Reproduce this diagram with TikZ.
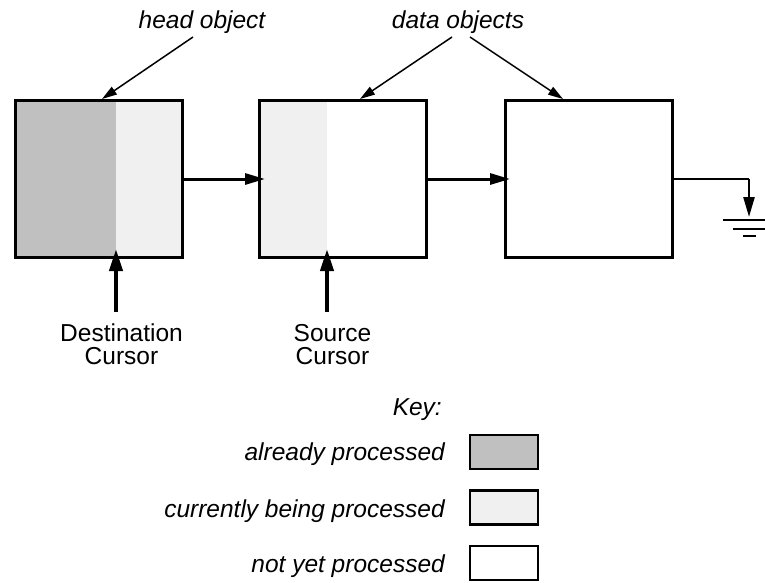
\documentclass[tikz,border=0pt]{standalone}
\usepackage{fontspec}
\setmainfont{Liberation Sans}
\usetikzlibrary{arrows.meta,backgrounds}
\definecolor{donec}{HTML}{C0C0C0}
\definecolor{curc}{HTML}{F0F0F0}
\begin{document}
\begin{tikzpicture}[x=1pt,y=-1pt,
  box/.style={draw,line width=3pt,minimum width=167pt,minimum height=157pt,inner sep=0pt,outer sep=0pt},
  keybox/.style={draw,line width=2.5pt,minimum width=68pt,minimum height=34pt,inner sep=0pt},
  lbl/.style={inner sep=0pt,font=\fontsize{24.5}{28}\selectfont\itshape},
  txt/.style={inner sep=0pt,align=center,font=\fontsize{24.5}{23}\selectfont},
  thinarrow/.style={line width=1.5pt,-{Triangle[length=15pt,width=9pt]}},
  link/.style={line width=3pt,-{Triangle[length=20pt,width=11pt]}},
  cur/.style={line width=4pt,-{Triangle[length=22pt,width=13pt]}}]
\useasboundingbox (0,0) rectangle (765,582);
% boxes
\node[box] (b1) at (98.5,178.5) {};
\node[box] (b2) at (343,178.5) {};
\node[box] (b3) at (588.5,178.5) {};
\begin{scope}[on background layer]
  \fill[donec] (b1.north west) rectangle (116,257);
  \fill[curc] (116,100) rectangle (b1.south east);
  \fill[curc] (b2.north west) rectangle (327,257);
\end{scope}
% labels on top
\node[lbl,anchor=base] (head) at (202,28) {head object};
\node[lbl,anchor=base] (data) at (458,28) {data objects};
\coordinate (hs) at (193,37);
\coordinate (ht) at (102,99);
\coordinate (ds1) at (452,37);
\coordinate (dt1) at (360,99);
\coordinate (ds2) at (470,37);
\coordinate (dt2) at (563,99);
\draw[thinarrow] (hs) -- (ht);
\draw[thinarrow] (ds1) -- (dt1);
\draw[thinarrow] (ds2) -- (dt2);
% links
\coordinate (l1s) at (182,179);
\coordinate (l1e) at (265,179);
\coordinate (l2s) at (426,179);
\coordinate (l2e) at (510,179);
\draw[link] (l1s) -- (l1e);
\draw[link] (l2s) -- (l2e);
% ground
\coordinate (g0) at (672,179);
\coordinate (g1) at (749,179);
\coordinate (g2) at (749,217);
\draw[line width=2.5pt] (g0) -- (g1);
\draw[link,line width=2.5pt] (g1) -- (g2);
\draw[line width=2.5pt] (723,220) -- (765,220);
\draw[line width=2.5pt] (733,229) -- (765,229);
\draw[line width=2.5pt] (743,236) -- (756,236);
% cursors
\node[txt,anchor=base] (dest) at (121.5,364) {Destination\\Cursor};
\node[txt,anchor=base] (src) at (332.5,364) {Source\\Cursor};
\coordinate (dc0) at (116,312);
\coordinate (dc1) at (116,249);
\coordinate (sc0) at (327,312);
\coordinate (sc1) at (327,249);
\draw[cur] (dc0) -- (dc1);
\draw[cur] (sc0) -- (sc1);
% key
\node[lbl,anchor=base east] (key) at (442,415) {Key:};
\node[lbl,anchor=base east] (k1t) at (445,460) {already processed};
\node[lbl,anchor=base east] (k2t) at (445,517) {currently being processed};
\node[lbl,anchor=base east] (k3t) at (445,572) {not yet processed};
\node[keybox,fill=donec] (k1) at (504,452) {};
\node[keybox,fill=curc] (k2) at (504,507.5) {};
\node[keybox,fill=white] (k3) at (504,563) {};
\end{tikzpicture}
\end{document}
